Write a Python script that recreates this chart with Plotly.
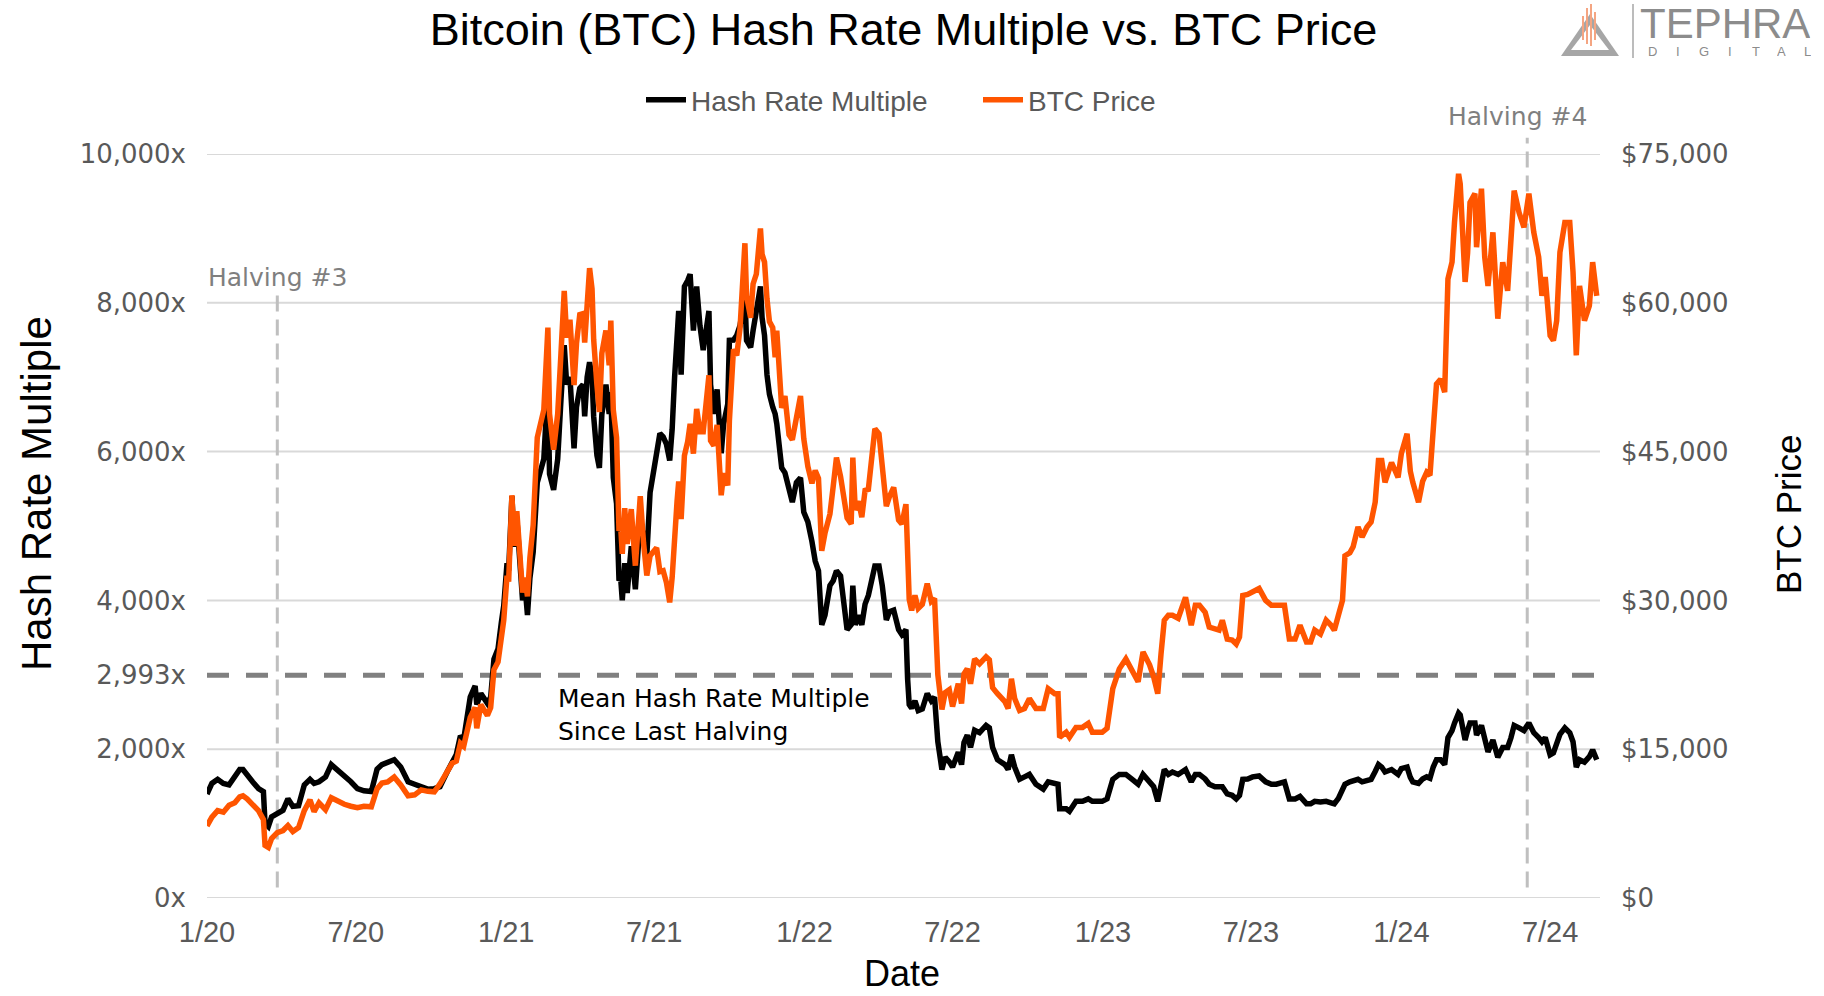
import plotly.graph_objects as go

# ---------------- data ----------------
dates_2020 = [
    "2020-01-01", "2020-01-07", "2020-01-14", "2020-01-21", "2020-01-28", "2020-02-04", "2020-02-10", "2020-02-14", "2020-02-19", "2020-02-26",
    "2020-03-04", "2020-03-10", "2020-03-12", "2020-03-16", "2020-03-20", "2020-03-27", "2020-04-03", "2020-04-09", "2020-04-15", "2020-04-22",
    "2020-04-29", "2020-05-06", "2020-05-11", "2020-05-17", "2020-05-25", "2020-06-01", "2020-06-09", "2020-06-17", "2020-06-25", "2020-07-03",
    "2020-07-11", "2020-07-20", "2020-07-27", "2020-08-02", "2020-08-09", "2020-08-17", "2020-08-25", "2020-09-03", "2020-09-11", "2020-09-19",
    "2020-09-27", "2020-10-05", "2020-10-12", "2020-10-21", "2020-10-27", "2020-11-01", "2020-11-06", "2020-11-10", "2020-11-18", "2020-11-24",
    "2020-11-26", "2020-12-01", "2020-12-09", "2020-12-13", "2020-12-17", "2020-12-22", "2020-12-26", "2020-12-29",
]
price_2020 = [
    7270, 8150, 8800, 8650, 9350, 9600, 10200, 10300, 10000, 9300,
    8800, 7900, 5300, 5100, 6000, 6600, 6800, 7300, 6700, 7100,
    8800, 9900, 8700, 9600, 8900, 10100, 9700, 9450, 9250, 9100,
    9250, 9200, 11000, 11600, 11700, 12200, 11400, 10300, 10400, 10900,
    10750, 10700, 11500, 12900, 13600, 13800, 15600, 15300, 18200, 19200,
    17100, 19500, 18400, 19200, 23000, 23800, 26500, 28000,
]
hrm_2020 = [
    1398, 1540, 1595, 1540, 1520, 1640, 1727, 1727, 1650, 1560,
    1470, 1430, 1002, 960, 1090, 1134, 1180, 1332, 1233, 1240,
    1520, 1595, 1540, 1562, 1628, 1793, 1720, 1640, 1562, 1470,
    1440, 1430, 1730, 1793, 1820, 1859, 1760, 1562, 1529, 1500,
    1463, 1470, 1496, 1700, 1826, 1930, 2180, 2130, 2700, 2850,
    2600, 2749, 2617, 2700, 3210, 3350, 3700, 3930,
]

dates_2021 = [
    "2021-01-02", "2021-01-04", "2021-01-08", "2021-01-11", "2021-01-14", "2021-01-17", "2021-01-21", "2021-01-24", "2021-01-27", "2021-01-30",
    "2021-02-03", "2021-02-08", "2021-02-12", "2021-02-16", "2021-02-21", "2021-02-23", "2021-02-28", "2021-03-05", "2021-03-09", "2021-03-13",
    "2021-03-16", "2021-03-20", "2021-03-25", "2021-03-28", "2021-04-01", "2021-04-05", "2021-04-07", "2021-04-10", "2021-04-13", "2021-04-16",
    "2021-04-18", "2021-04-22", "2021-04-25", "2021-04-28", "2021-05-03", "2021-05-07", "2021-05-09", "2021-05-12", "2021-05-16", "2021-05-19",
    "2021-05-21", "2021-05-23", "2021-05-26", "2021-05-29", "2021-06-03", "2021-06-08", "2021-06-14", "2021-06-18", "2021-06-22", "2021-06-26",
    "2021-06-30", "2021-07-04", "2021-07-08", "2021-07-12", "2021-07-16", "2021-07-20", "2021-07-23", "2021-07-26", "2021-07-29", "2021-07-31",
    "2021-08-03", "2021-08-07", "2021-08-11", "2021-08-14", "2021-08-18", "2021-08-22", "2021-08-26", "2021-08-30", "2021-09-06", "2021-09-08",
    "2021-09-12", "2021-09-16", "2021-09-21", "2021-09-24", "2021-09-29", "2021-10-01", "2021-10-06", "2021-10-10", "2021-10-14", "2021-10-20",
    "2021-10-22", "2021-10-27", "2021-10-30", "2021-11-03", "2021-11-08", "2021-11-10", "2021-11-13", "2021-11-16", "2021-11-19", "2021-11-23",
    "2021-11-26", "2021-11-28", "2021-12-04", "2021-12-08", "2021-12-13", "2021-12-17", "2021-12-22", "2021-12-27", "2021-12-31",
]
price_2021 = [
    32500, 31900, 40600, 35500, 39000, 36000, 30800, 32300, 30400, 34300,
    37600, 46400, 47600, 49200, 57500, 48800, 45200, 48800, 54900, 61200,
    56500, 58300, 51700, 55900, 58800, 58900, 56000, 59800, 63500, 61400,
    56300, 51700, 49000, 54900, 57200, 53700, 58200, 49200, 46400, 37000,
    37500, 34700, 39300, 35700, 39200, 33500, 40500, 35800, 32500, 34500,
    35000, 35300, 32900, 33000, 31800, 29800, 32300, 37300, 40000, 42000,
    38200, 44600, 46000, 47800, 44800, 49300, 47000, 47000, 52700, 46100,
    45600, 47700, 40600, 42800, 41600, 48100, 55300, 54700, 57400, 66000,
    60700, 58500, 61900, 62900, 67500, 64900, 64100, 60400, 58100, 57500,
    54500, 57200, 49400, 50600, 46700, 46200, 48600, 50600, 46300,
]
hrm_2021 = [
    4500, 4400, 5400, 4720, 5100, 4700, 4001, 4200, 3803, 4300,
    4650, 5583, 5715, 5900, 6900, 5700, 5485, 5900, 6700, 7429,
    6902, 7000, 6045, 6600, 6850, 6900, 6473, 7000, 7200, 7000,
    6473, 5950, 5781, 6500, 6900, 6506, 6800, 5650, 5300, 4265,
    4300, 4001, 4500, 4100, 4727, 4150, 5100, 4800, 4600, 5450,
    5700, 6000, 6243, 6200, 6100, 5880, 6300, 7000, 7561, 7890,
    7033, 8220, 8300, 8385, 7627, 8220, 7693, 7363, 7890, 6900,
    6506, 6836, 5979, 6374, 6638, 7495, 7500, 7561, 7693, 8088,
    7495, 7400, 7627, 7890, 8220, 7800, 7561, 7033, 6770, 6600,
    6506, 6374, 5781, 5715, 5452, 5320, 5584, 5650, 5188,
]

dates_2022 = [
    "2022-01-05", "2022-01-10", "2022-01-14", "2022-01-18", "2022-01-22", "2022-01-26", "2022-02-01", "2022-02-05", "2022-02-09", "2022-02-14",
    "2022-02-18", "2022-02-22", "2022-02-27", "2022-03-01", "2022-03-04", "2022-03-08", "2022-03-12", "2022-03-16", "2022-03-20", "2022-03-24",
    "2022-03-28", "2022-04-02", "2022-04-06", "2022-04-11", "2022-04-15", "2022-04-20", "2022-04-26", "2022-04-30", "2022-05-05", "2022-05-07",
    "2022-05-09", "2022-05-12", "2022-05-16", "2022-05-20", "2022-05-25", "2022-05-31", "2022-06-05", "2022-06-09", "2022-06-13", "2022-06-18",
    "2022-06-22", "2022-06-27", "2022-07-01", "2022-07-08", "2022-07-12", "2022-07-15", "2022-07-19", "2022-07-23", "2022-07-28", "2022-08-03",
    "2022-08-11", "2022-08-15", "2022-08-19", "2022-08-25", "2022-09-03", "2022-09-07", "2022-09-11", "2022-09-15", "2022-09-21", "2022-09-27",
    "2022-10-03", "2022-10-11", "2022-10-20", "2022-10-26", "2022-11-03", "2022-11-07", "2022-11-09", "2022-11-17", "2022-11-21", "2022-11-29",
    "2022-12-07", "2022-12-14", "2022-12-19", "2022-12-31",
]
price_2022 = [
    43500, 41800, 43100, 42300, 35000, 36800, 38700, 41500, 44400, 42500,
    40000, 38300, 37700, 44400, 39100, 40000, 38400, 41100, 41200, 44000,
    47300, 46800, 43200, 39500, 40500, 41400, 38100, 37700, 39700, 35900,
    30100, 29000, 30500, 29200, 29600, 31700, 29900, 30200, 22500, 19000,
    20700, 21000, 19300, 21600, 19600, 22600, 23100, 21600, 24100, 23600,
    24300, 24000, 21200, 20600, 19800, 19100, 22100, 20100, 18900, 19100,
    20100, 19100, 19100, 21100, 20600, 20600, 16200, 16700, 16200, 17200,
    17200, 17600, 16700, 16700,
]
hrm_2022 = [
    5056, 4792, 4529, 4397, 3672, 3804, 4200, 4265, 4397, 4331,
    3936, 3606, 3672, 4199, 3672, 3800, 3672, 3950, 4067, 4250,
    4463, 4463, 4200, 3738, 3850, 3870, 3606, 3540, 3606, 2950,
    2600, 2551, 2650, 2518, 2540, 2749, 2650, 2700, 2100, 1727,
    1892, 1830, 1760, 1958, 1793, 2090, 2189, 2024, 2254, 2222,
    2320, 2287, 2024, 1859, 1793, 1727, 1925, 1760, 1595, 1628,
    1661, 1529, 1463, 1562, 1529, 1529, 1200, 1200, 1167, 1299,
    1299, 1332, 1299, 1299,
]

dates_2023 = [
    "2023-01-06", "2023-01-13", "2023-01-21", "2023-01-29", "2023-02-05", "2023-02-10", "2023-02-13", "2023-02-19", "2023-02-27", "2023-03-04",
    "2023-03-09", "2023-03-13", "2023-03-17", "2023-03-22", "2023-03-27", "2023-04-03", "2023-04-12", "2023-04-19", "2023-04-24", "2023-04-29",
    "2023-05-06", "2023-05-11", "2023-05-18", "2023-05-23", "2023-05-27", "2023-06-02", "2023-06-08", "2023-06-13", "2023-06-17", "2023-06-21",
    "2023-06-27", "2023-07-03", "2023-07-11", "2023-07-19", "2023-07-26", "2023-08-01", "2023-08-11", "2023-08-17", "2023-08-24", "2023-08-30",
    "2023-09-07", "2023-09-12", "2023-09-17", "2023-09-24", "2023-10-01", "2023-10-07", "2023-10-11", "2023-10-16", "2023-10-21", "2023-10-24",
    "2023-10-30", "2023-11-03", "2023-11-09", "2023-11-14", "2023-11-20", "2023-11-25", "2023-11-30", "2023-12-04", "2023-12-08", "2023-12-12",
    "2023-12-20", "2023-12-28",
]
price_2023 = [
    17100, 21100, 23100, 24100, 23000, 22000, 21800, 24800, 23500, 22300,
    20600, 24600, 28000, 28500, 28500, 28200, 30300, 27500, 29500, 29500,
    28800, 27300, 27200, 27000, 28000, 26100, 26000, 25600, 26300, 30500,
    30600, 30800, 31200, 30000, 29500, 29500, 29500, 26100, 26100, 27500,
    25800, 25800, 27000, 26600, 28000, 27500, 27000, 28500, 30000, 34500,
    34800, 35400, 37400, 36400, 37400, 37900, 39900, 44100, 44100, 41900,
    43900, 42400,
]
hrm_2023 = [
    1332, 1595, 1661, 1661, 1600, 1550, 1529, 1661, 1562, 1496,
    1299, 1560, 1727, 1661, 1694, 1661, 1727, 1562, 1661, 1661,
    1600, 1529, 1496, 1496, 1496, 1398, 1380, 1332, 1380, 1595,
    1600, 1628, 1641, 1562, 1530, 1530, 1562, 1332, 1332, 1365,
    1266, 1266, 1299, 1290, 1299, 1280, 1266, 1340, 1450, 1529,
    1562, 1570, 1595, 1562, 1580, 1595, 1700, 1793, 1760, 1694,
    1727, 1661,
]

dates_2024 = [
    "2024-01-01", "2024-01-08", "2024-01-12", "2024-01-15", "2024-01-22", "2024-01-27", "2024-02-01", "2024-02-05", "2024-02-09", "2024-02-13",
    "2024-02-18", "2024-02-23", "2024-02-27", "2024-03-03", "2024-03-06", "2024-03-11", "2024-03-13", "2024-03-16", "2024-03-19", "2024-03-22",
    "2024-03-25", "2024-03-31", "2024-04-02", "2024-04-08", "2024-04-12", "2024-04-16", "2024-04-22", "2024-04-28", "2024-05-04", "2024-05-10",
    "2024-05-14", "2024-05-18", "2024-05-24", "2024-05-30", "2024-06-05", "2024-06-11", "2024-06-17", "2024-06-21", "2024-06-25", "2024-07-01",
    "2024-07-05", "2024-07-09", "2024-07-13", "2024-07-19", "2024-07-25", "2024-07-29", "2024-08-02", "2024-08-06", "2024-08-12", "2024-08-18",
    "2024-08-22", "2024-08-27",
]
price_2024 = [
    44800, 46800, 43000, 41900, 39900, 42000, 42900, 42600, 47800, 51800,
    52300, 51000, 62400, 64100, 68100, 73000, 72000, 67000, 62100, 65000,
    70100, 71000, 65600, 71500, 64600, 61700, 67100, 58400, 64100, 61200,
    66100, 71300, 69100, 67600, 71000, 67100, 64600, 60700, 62600, 56700,
    56200, 58200, 65100, 68100, 68100, 63100, 54700, 61700, 58200, 59700,
    64100, 60700,
]
hrm_2024 = [
    1740, 1760, 1620, 1562, 1540, 1600, 1628, 1610, 1760, 1859,
    1859, 1793, 2156, 2250, 2350, 2485, 2460, 2250, 2123, 2250,
    2353, 2353, 2189, 2320, 2100, 1964, 2123, 1892, 2024, 2024,
    2150, 2320, 2287, 2250, 2353, 2222, 2156, 2100, 2156, 1925,
    1950, 2090, 2200, 2287, 2222, 2100, 1760, 1859, 1826, 1900,
    1991, 1859,
]

mean_multiple = 2993
halving_dates = ["2020-03-27", "2024-06-03"]
halving_labels = ["Halving #3", "Halving #4"]

x_tick_dates = ["2020-01-01", "2020-07-01", "2021-01-01", "2021-07-01", "2022-01-01",
                "2022-07-01", "2023-01-01", "2023-07-01", "2024-01-01", "2024-07-01"]
x_tick_text = ["1/20", "7/20", "1/21", "7/21", "1/22", "7/22", "1/23", "7/23", "1/24", "7/24"]
left_ticks = [0, 2000, 2993, 4000, 6000, 8000, 10000]
left_tick_text = ["0x", "2,000x", "2,993x", "4,000x", "6,000x", "8,000x", "10,000x"]
grid_values = [0, 2000, 4000, 6000, 8000, 10000]
right_ticks = [0, 15000, 30000, 45000, 60000, 75000]
right_tick_text = ["$0", "$15,000", "$30,000", "$45,000", "$60,000", "$75,000"]

dates = dates_2020 + dates_2021 + dates_2022 + dates_2023 + dates_2024
hash_multiple = hrm_2020 + hrm_2021 + hrm_2022 + hrm_2023 + hrm_2024
btc_price = price_2020 + price_2021 + price_2022 + price_2023 + price_2024
assert len(dates) == len(hash_multiple) == len(btc_price)

# ---------------- styling ----------------
SANS = "Liberation Sans, Arial, sans-serif"
GEO = "DejaVu Sans, Verdana, sans-serif"
GREY_TXT = "#595959"

fig = go.Figure()
fig.add_trace(go.Scatter(x=dates, y=hash_multiple, name="Hash Rate Multiple", mode="lines",
                         line=dict(color="#000000", width=5.5), yaxis="y"))
fig.add_trace(go.Scatter(x=dates, y=btc_price, name="BTC Price", mode="lines",
                         line=dict(color="#ff5500", width=5.5), yaxis="y2"))


def px(xp):
    return (xp - 207) / 1393.0


def py(yp):
    return (898 - yp) / 744.0


shapes = []
for g in grid_values:
    shapes.append(dict(type="line", xref="paper", yref="y", x0=0, x1=1, y0=g, y1=g,
                       line=dict(color="#d9d9d9", width=2), layer="below"))
shapes.append(dict(type="line", xref="paper", yref="y", x0=0, x1=1, y0=mean_multiple, y1=mean_multiple,
                   line=dict(color="#808080", width=5, dash="22px,17px"), layer="below"))
halving_tops = [0.812, 1.022]
for d, top in zip(halving_dates, halving_tops):
    shapes.append(dict(type="line", xref="x", yref="paper", x0=d, x1=d, y0=0.014, y1=top,
                       line=dict(color="#bfbfbf", width=3, dash="16px,8px"), layer="below"))

# logo
tri_outer = f"M {px(1561)} {py(56)} L {px(1590)} {py(14)} L {px(1619)} {py(56)} Z"
tri_inner = f"M {px(1571)} {py(50)} L {px(1590)} {py(25)} L {px(1609)} {py(50)} Z"
shapes.append(dict(type="path", xref="paper", yref="paper", path=tri_outer,
                   fillcolor="#a6a6a6", line=dict(width=0)))
shapes.append(dict(type="path", xref="paper", yref="paper", path=tri_inner,
                   fillcolor="#ffffff", line=dict(width=0)))
for bx, btop, bbot in [(1583, 16, 40), (1587, 8, 44), (1591, 4, 46), (1595, 12, 40)]:
    shapes.append(dict(type="line", xref="paper", yref="paper", x0=px(bx), x1=px(bx),
                       y0=py(bbot), y1=py(btop), line=dict(color="#f4a582", width=2)))
shapes.append(dict(type="line", xref="paper", yref="paper", x0=px(1633), x1=px(1633),
                   y0=py(58), y1=py(4), line=dict(color="#a6a6a6", width=1.5)))

annotations = []
for d, lab, ypos, xs in zip(halving_dates, halving_labels, [py(277), py(116)], [0, -10]):
    annotations.append(dict(x=d, xref="x", y=ypos, yref="paper", text=lab, showarrow=False,
                            xanchor="center", yanchor="middle", xshift=xs,
                            font=dict(family=GEO, size=25, color="#7f7f7f")))
annotations.append(dict(x=px(556), xref="paper", y=py(682), yref="paper",
                        text="Mean Hash Rate Multiple<br>Since Last Halving", showarrow=False,
                        xanchor="left", yanchor="top", align="left",
                        font=dict(family=GEO, size=25, color="#000000")))
annotations.append(dict(x=px(36), xref="paper", y=py(494), yref="paper", text="Hash Rate Multiple",
                        textangle=-90, showarrow=False, xanchor="center", yanchor="middle",
                        font=dict(family=SANS, size=42, color="#000000")))
annotations.append(dict(x=px(1788), xref="paper", y=py(515), yref="paper", text="BTC Price",
                        textangle=-90, showarrow=False, xanchor="center", yanchor="middle",
                        font=dict(family=SANS, size=35, color="#000000")))
annotations.append(dict(x=px(902), xref="paper", y=py(973), yref="paper", text="Date",
                        showarrow=False, xanchor="center", yanchor="middle", height=36,
                        font=dict(family=SANS, size=36, color="#000000")))
annotations.append(dict(x=px(1638), xref="paper", y=py(23), yref="paper", text="TEPHRA",
                        showarrow=False, xanchor="left", yanchor="middle", height=34,
                        font=dict(family=SANS, size=42, color="#8c8c8c")))
for i, ch in enumerate("DIGITAL"):
    annotations.append(dict(x=px(1652 + i * 26), xref="paper", y=py(51), yref="paper", text=ch,
                            showarrow=False, xanchor="center", yanchor="middle", height=12,
                            font=dict(family=SANS, size=13, color="#8c8c8c")))

fig.update_layout(
    width=1824, height=996,
    margin=dict(l=207, r=224, t=154, b=98),
    paper_bgcolor="white", plot_bgcolor="white",
    title=dict(text="Bitcoin (BTC) Hash Rate Multiple vs. BTC Price", x=0.5, xref="paper",
               y=1 - 29 / 996, yref="container", xanchor="center", yanchor="middle",
               font=dict(family=SANS, size=45, color="#000000")),
    legend=dict(orientation="h", x=px(641), xanchor="left", y=py(100), yanchor="middle",
                font=dict(family=SANS, size=28, color=GREY_TXT), bgcolor="rgba(0,0,0,0)",
                entrywidth=282, entrywidthmode="pixels", itemwidth=40),
    xaxis=dict(type="date", range=["2020-01-01", "2024-08-31"], tickvals=x_tick_dates,
               ticktext=x_tick_text, showgrid=False, zeroline=False, showline=False, ticks="",
               tickfont=dict(family=SANS, size=29, color=GREY_TXT), ticklabelstandoff=14),
    yaxis=dict(range=[0, 10000], tickvals=left_ticks, ticktext=left_tick_text, showgrid=False,
               zeroline=False, showline=False, ticks="",
               tickfont=dict(family=GEO, size=26, color=GREY_TXT), ticklabelstandoff=20),
    yaxis2=dict(range=[0, 75000], tickvals=right_ticks, ticktext=right_tick_text, overlaying="y",
                side="right", showgrid=False, zeroline=False, showline=False, ticks="",
                tickfont=dict(family=GEO, size=26, color=GREY_TXT), ticklabelstandoff=20),
    shapes=shapes,
    annotations=annotations,
    showlegend=True,
)

fig.write_html("out.html", config={"displayModeBar": False},
               post_script="document.body.style.margin='0';document.body.style.overflow='hidden';")
